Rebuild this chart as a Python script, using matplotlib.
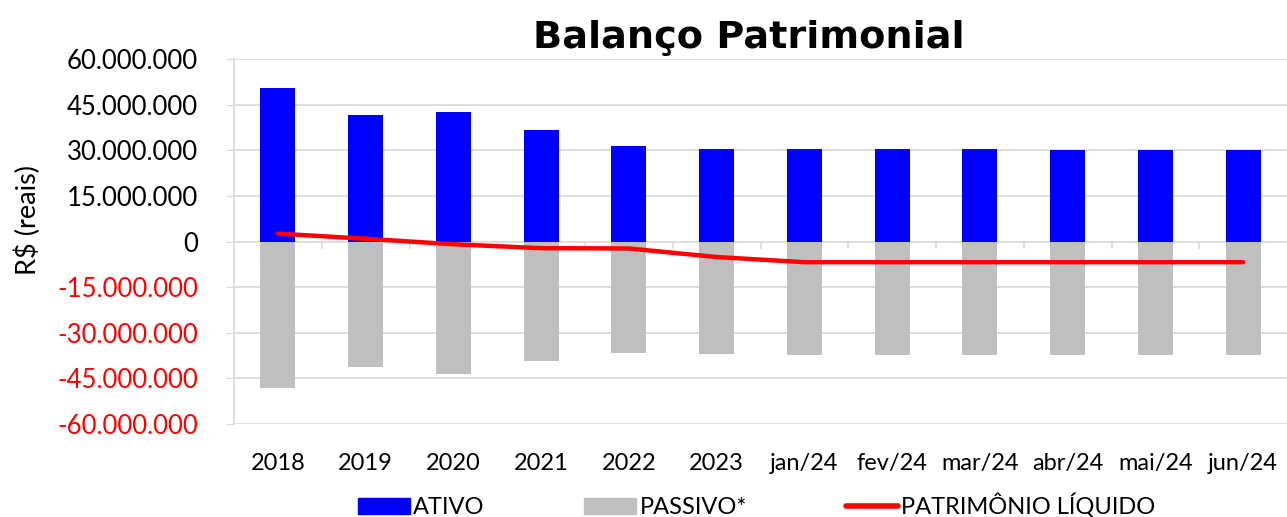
import matplotlib
matplotlib.use("Agg")
import matplotlib.pyplot as plt
from matplotlib.lines import Line2D
from matplotlib.patches import Patch
import numpy as np

# valores (R$)
periodos = ['2018', '2019', '2020', '2021', '2022', '2023',
            'jan/24', 'fev/24', 'mar/24', 'abr/24', 'mai/24', 'jun/24']
ativo = [50.5e6, 41.7e6, 42.6e6, 36.8e6, 31.4e6, 30.3e6,
         30.4e6, 30.3e6, 30.3e6, 30.0e6, 30.2e6, 30.2e6]
passivo = [-48.2e6, -41.2e6, -43.7e6, -39.2e6, -36.6e6, -37.1e6,
           -37.2e6, -37.2e6, -37.2e6, -37.2e6, -37.2e6, -37.2e6]
patrimonio = [2.6e6, 0.9e6, -0.9e6, -2.2e6, -2.3e6, -5.1e6,
              -6.8e6, -6.8e6, -6.8e6, -6.8e6, -6.8e6, -6.8e6]
yticks = [60e6, 45e6, 30e6, 15e6, 0, -15e6, -30e6, -45e6, -60e6]

plt.rcParams['font.family'] = ['Lato', 'DejaVu Sans']

fig = plt.figure(figsize=(12.87, 5.17), dpi=100)
ax = fig.add_axes([234/1287, 1-424/517, (1287-234)/1287, (424-59)/517])

x = np.arange(len(periodos))
ax.bar(x, ativo, width=0.4, color='#0000FF', zorder=2)
ax.bar(x, passivo, width=0.4, color='#BFBFBF', zorder=2)
ax.plot(x, patrimonio, color='#FF0000', lw=3.2, solid_capstyle='round', zorder=3)

ax.set_xlim(-0.5, len(periodos)-0.5)
ax.set_ylim(-60e6, 60e6)
ax.set_yticks(yticks)
ax.set_yticklabels([f"{int(v):,}".replace(',', '.') for v in yticks], fontsize=18.5)
for lbl, v in zip(ax.get_yticklabels(), yticks):
    lbl.set_color('#FF0000' if v < 0 else 'black')
ax.yaxis.grid(True, color='#D9D9D9', lw=1.2, zorder=0)
ax.tick_params(axis='y', length=6, color='#D9D9D9', pad=20)

ax.set_xticks(x)
ax.set_xticklabels(periodos, fontsize=17)
ax.tick_params(axis='x', length=0, pad=21)
# marcas entre categorias sobre o eixo zero
for b in np.arange(0.5, len(periodos)-0.5, 1.0):
    ax.plot([b, b], [0, -2.2e6], color='#D9D9D9', lw=1.2, zorder=1)

for s in ['top', 'right', 'bottom']:
    ax.spines[s].set_visible(False)
ax.spines['left'].set_color('#D9D9D9')
ax.spines['left'].set_linewidth(1.2)

ax.set_ylabel('R$ (reais)', fontsize=19.5)
ax.yaxis.set_label_coords(-0.183, 0.56)

fig.text(0.582, 0.927, 'Balanço Patrimonial', fontsize=27.5, fontweight='bold',
         family='DejaVu Sans', ha='center', va='center')

handles = [Patch(color='#0000FF'), Patch(color='#BFBFBF'),
           Line2D([0], [0], color='#FF0000', lw=4, solid_capstyle='round')]
fig.legend(handles, ['ATIVO', 'PASSIVO*', 'PATRIMÔNIO LÍQUIDO'], loc='center',
           bbox_to_anchor=(0.588, 0.022), ncol=3, frameon=False, fontsize=17,
           handlelength=2.2, handletextpad=0.15, columnspacing=4.2)

fig.savefig('out.png', dpi=100)
